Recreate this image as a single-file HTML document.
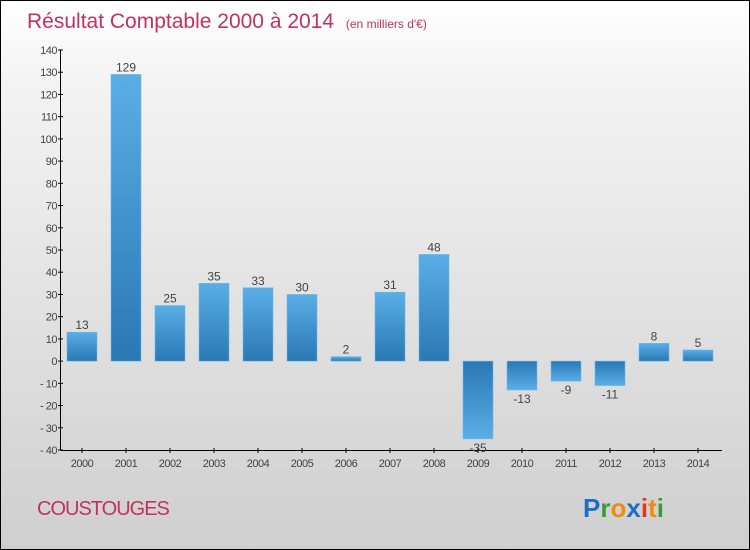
<!DOCTYPE html>
<html><head><meta charset="utf-8"><style>
body{margin:0}
#c{position:relative;width:748px;height:548px;border:1px solid #000;background:linear-gradient(#fff,#f3f3f3 15%,#cfcfcf);font-family:"Liberation Sans",sans-serif;overflow:hidden}
</style></head><body>
<div id="c">
<svg width="748" height="548" id="svg">
<defs>
<linearGradient id="gp" x1="0" y1="0" x2="0" y2="1"><stop offset="0" stop-color="#5aaee6"/><stop offset="1" stop-color="#2a78b4"/></linearGradient>
<linearGradient id="gn" x1="0" y1="0" x2="0" y2="1"><stop offset="0" stop-color="#2a78b4"/><stop offset="1" stop-color="#5aaee6"/></linearGradient>
</defs>
<text x="26" y="27" font-size="21" fill="#c0325f">Résultat Comptable 2000 à 2014 <tspan font-size="12" dx="6">(en milliers d'€)</tspan></text>
<text x="36" y="514" font-size="20" fill="#c0325f" letter-spacing="-1">COUSTOUGES</text>
<text x="582" y="516" font-size="26" font-weight="bold"><tspan fill="#1a6fc4">P</tspan><tspan fill="#3a9a3a">r</tspan><tspan fill="#f08a10">o</tspan><tspan fill="#1a6fc4">x</tspan><tspan fill="#e03a1a">i</tspan><tspan fill="#f08a10">t</tspan><tspan fill="#3a9a3a">i</tspan></text>
<g id="plot"></g>
</svg>
</div>
<script>
const years=["2000","2001","2002","2003","2004","2005","2006","2007","2008","2009","2010","2011","2012","2013","2014"];
const values=[13,129,25,35,33,30,2,31,48,-35,-13,-9,-11,8,5];
const yTicks=[140,130,120,110,100,90,80,70,60,50,40,30,20,10,0,-10,-20,-30,-40];
const NS="http://www.w3.org/2000/svg";
const g=document.getElementById('plot');
const y=v=>49+(140-v)*400/180;
const x=i=>81+44*i;
function el(t,a){const e=document.createElementNS(NS,t);for(const k in a)e.setAttribute(k,a[k]);g.appendChild(e);return e;}
let e=el('line',{x1:59.5,y1:49,x2:59.5,y2:449.5,stroke:'#000'});


e=el('line',{x1:59.5,y1:449.5,x2:721,y2:449.5,stroke:'#000'});


yTicks.forEach(v=>{
 const t=el('line',{x1:57,x2:62,y1:y(v),y2:y(v),stroke:'#000'});
 
 
 const l=el('text',{x:56,y:y(v)+4,'font-size':11,'text-anchor':'end',fill:'#444','letter-spacing':'-0.5'});
 l.textContent=v<0?'- '+(-v):String(v);
 
 
});
years.forEach((yr,i)=>{
 const v=values[i],cx=x(i);
 const t=el('line',{x1:cx,x2:cx,y1:447,y2:452,stroke:'#000'});
 
 
 const l=el('text',{x:cx,y:466,'font-size':11,'text-anchor':'middle',fill:'#444','letter-spacing':'-0.5'});
 l.textContent=yr;
 
 
 const top=Math.min(y(v),y(0)),h=Math.abs(y(v)-y(0));
 const b=el('rect',{x:cx-15,y:top,width:30,height:Math.max(h,1),fill:v>=0?'url(#gp)':'url(#gn)',stroke:'#6ab8ea','stroke-width':0.6});
 
 
 const vl=el('text',{x:cx,y:v>=0?y(v)-3:y(v)+13,'font-size':12,'text-anchor':'middle',fill:'#444'});
 vl.textContent=v<0?'-'+(-v):String(v);
 
 
});
</script>
</body></html>
